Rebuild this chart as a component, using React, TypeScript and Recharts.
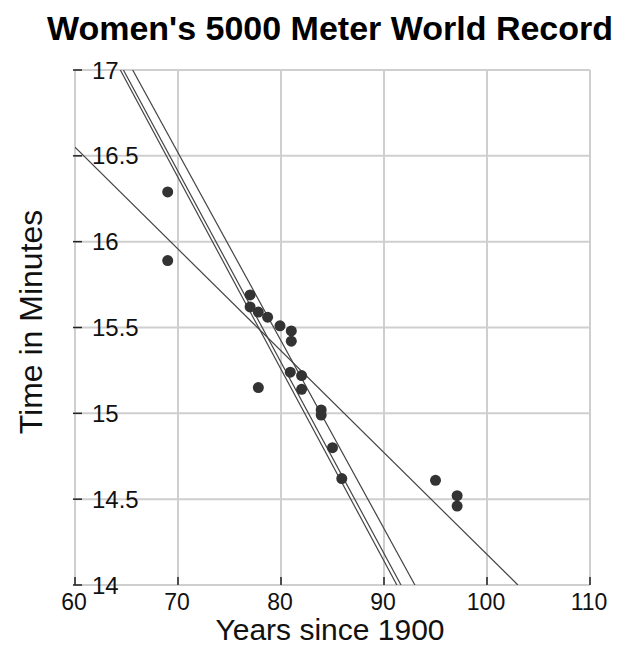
import React from 'react';
import { ComposedChart, Scatter, Line, XAxis, YAxis, CartesianGrid } from 'recharts';

// world record progression (years since 1900, minutes)
const years = [69, 69, 77, 77, 77.8, 78.7, 79.9, 81, 81, 80.9, 82, 82, 77.8, 83.9, 83.9, 85, 85.9, 95, 97.1, 97.1];
const times = [16.29, 15.89, 15.69, 15.62, 15.59, 15.56, 15.51, 15.48, 15.42, 15.24, 15.22, 15.14, 15.15, 15.02, 14.99, 14.8, 14.62, 14.61, 14.52, 14.46];

// fitted lines, given by their two end points
const fitA = [{ x: 64.4, y: 17 }, { x: 91.25, y: 14 }];
const fitB = [{ x: 64.7, y: 17 }, { x: 91.65, y: 14 }];
const fitC = [{ x: 65.6, y: 17 }, { x: 93.0, y: 14 }];
const fitAll = [{ x: 60, y: 16.55 }, { x: 103, y: 14 }];

const xTicks = [60, 70, 80, 90, 100, 110];
const yTicks = [14, 14.5, 15, 15.5, 16, 16.5, 17];

const points = years.map((x, i) => ({ x, y: times[i] }));

const FONT = '"Liberation Sans", Arial, sans-serif';

const YTick = (props: any) => {
  const { x, y, payload } = props;
  return (
    <g>
      <line x1={x - 1} y1={y} x2={x + 8} y2={y} stroke="#222" strokeWidth={1.5} />
      <text x={x + 18} y={y} dominantBaseline="central" fontSize={24} fill="#111" fontFamily={FONT}>
        {payload.value}
      </text>
    </g>
  );
};

const XTick = (props: any) => {
  const { x, y, payload } = props;
  return (
    <g>
      <line x1={x} y1={y - 9} x2={x} y2={y - 1} stroke="#222" strokeWidth={1.5} />
      <text x={x - 1} y={y + 24} textAnchor="middle" fontSize={23} fill="#111" fontFamily={FONT}>
        {payload.value}
      </text>
    </g>
  );
};

export default function App() {
  const lineProps = {
    dataKey: 'y',
    stroke: '#444',
    strokeWidth: 1.2,
    dot: false,
    activeDot: false,
    isAnimationActive: false,
    legendType: 'none' as const,
  };
  return (
    <div style={{ position: 'fixed', left: 0, top: 0, width: 618, height: 648, background: '#fff' }}>
      <svg width={618} height={648} style={{ position: 'absolute', left: 0, top: 0, pointerEvents: 'none', zIndex: 2 }}>
        <text x={330} y={40} textAnchor="middle" fontSize={34} fontWeight="bold" fill="#000" fontFamily={FONT}>
          Women's 5000 Meter World Record
        </text>
        <text x={330} y={640} textAnchor="middle" fontSize={30} fill="#111" fontFamily={FONT}>
          Years since 1900
        </text>
        <text x={42} y={322} transform="rotate(-90 42 322)" textAnchor="middle" fontSize={32} fill="#111" fontFamily={FONT}>
          Time in Minutes
        </text>
      </svg>
      <ComposedChart width={618} height={648} margin={{ top: 70, right: 28, left: 74, bottom: 62 }}>
        <CartesianGrid stroke="#cfcfcf" strokeWidth={2} />
        <XAxis
          type="number"
          dataKey="x"
          domain={[60, 110]}
          ticks={xTicks}
          height={1}
          tickSize={1}
          tickMargin={0}
          axisLine={false}
          tickLine={false}
          tick={XTick}
          interval={0}
          allowDataOverflow
        />
        <YAxis
          type="number"
          dataKey="y"
          domain={[14, 17]}
          ticks={yTicks}
          width={1}
          tickSize={1}
          tickMargin={0}
          axisLine={false}
          tickLine={false}
          tick={YTick}
          interval={0}
          allowDataOverflow
        />
        <Line data={fitAll} {...lineProps} />
        <Line data={fitA} {...lineProps} />
        <Line data={fitB} {...lineProps} />
        <Line data={fitC} {...lineProps} />
        <Scatter data={points} fill="#333" isAnimationActive={false} shape={(p: any) => <circle cx={p.cx} cy={p.cy} r={5.5} fill="#333" />} />
      </ComposedChart>
    </div>
  );
}
